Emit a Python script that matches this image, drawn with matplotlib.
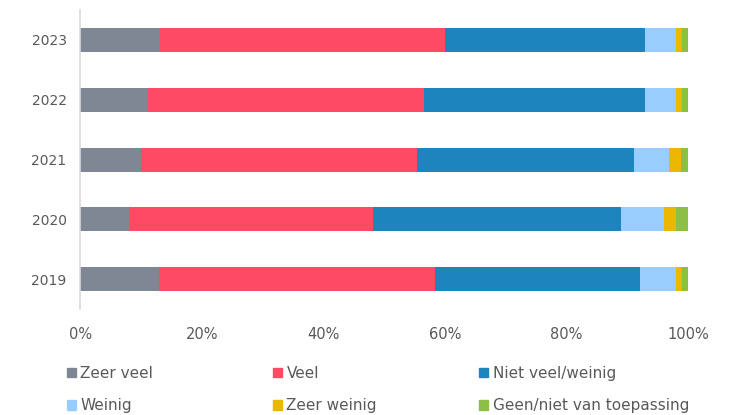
import numpy as np
import matplotlib.pyplot as plt
from matplotlib.patches import Patch

# Data (percent per year)
years = ['2019', '2020', '2021', '2022', '2023']
zeer_veel = [13.0, 8.0, 10.0, 11.2, 13.1]
veel = [45.4, 40.1, 45.4, 45.4, 47.0]
niet_veel_weinig = [33.7, 40.9, 35.7, 36.3, 32.8]
weinig = [5.9, 7.0, 5.8, 5.1, 5.1]
zeer_weinig = [1.0, 2.0, 2.0, 1.1, 1.1]
geen = [1.0, 2.0, 1.1, 0.9, 0.9]

labels = ['Zeer veel', 'Veel', 'Niet veel/weinig', 'Weinig', 'Zeer weinig',
          'Geen/niet van toepassing']
colors = ['#7F8795', '#FF4A64', '#1E84BE', '#99CCFF', '#EBB700', '#8CBF44']
series = [zeer_veel, veel, niet_veel_weinig, weinig, zeer_weinig, geen]

text_color = '#595959'
plt.rcParams['font.family'] = ['DejaVu Sans']

fig = plt.figure(figsize=(7.31, 4.15), dpi=100)
ax = fig.add_axes([0.110, 0.255, 0.831, 0.721])

y = np.arange(len(years))
left = np.zeros(len(years))
for vals, col, lab in zip(series, colors, labels):
    vals = np.array(vals)
    ax.barh(y, vals, left=left, height=0.4, color=col, label=lab)
    left += vals

ax.set_xlim(0, 100)
ax.set_ylim(-0.5, len(years) - 0.5)
ax.set_yticks(y)
ax.set_yticklabels(years)
ax.set_xticks([0, 20, 40, 60, 80, 100])
ax.set_xticklabels(['0%', '20%', '40%', '60%', '80%', '100%'])
ax.tick_params(axis='both', length=0, colors=text_color)
ax.tick_params(axis='x', pad=13, labelsize=10.5)
ax.tick_params(axis='y', pad=10, labelsize=10)

for s in ['top', 'right', 'bottom']:
    ax.spines[s].set_visible(False)
ax.spines['left'].set_color('#D9D9D9')
ax.spines['left'].set_linewidth(1.2)

# legend: three columns at fixed positions, two rows each
col_x = [0.091, 0.373, 0.655]
for i, x0 in enumerate(col_x):
    handles = [Patch(color=colors[i]), Patch(color=colors[i + 3])]
    names = [labels[i], labels[i + 3]]
    fig.legend(handles, names, loc='upper left', bbox_to_anchor=(x0, 0.118),
               frameon=False, fontsize=11, labelcolor=text_color,
               handlelength=0.6, handleheight=0.6, handletextpad=0.3,
               labelspacing=1.12, borderaxespad=0, borderpad=0)

fig.savefig('out.png', dpi=100)
